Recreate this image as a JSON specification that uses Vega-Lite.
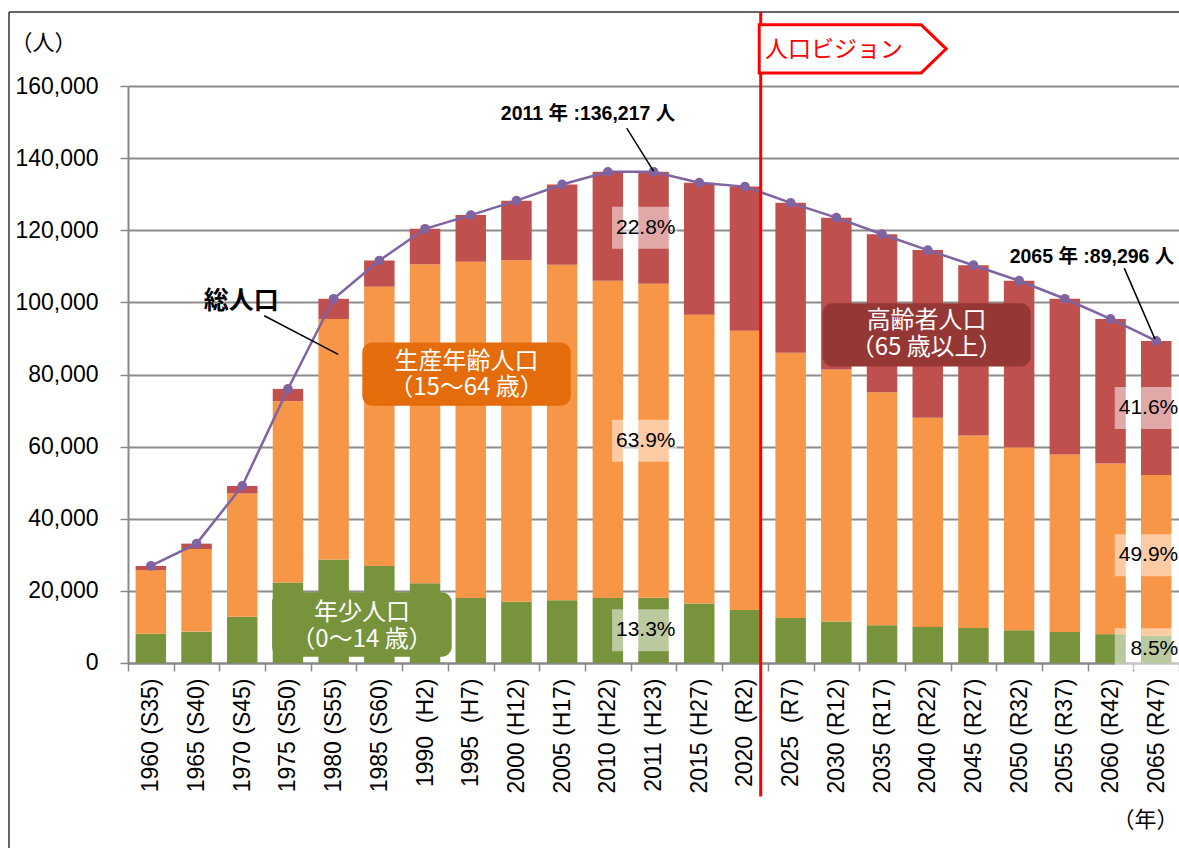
{
"$schema":"https://vega.github.io/schema/vega-lite/v6.json",
"width":1051.1,"height":577,
"autosize":{"type":"none"},
"padding":{"left":128,"top":86,"right":0,"bottom":185},
"background":"white",
"config":{"view":{"stroke":null},"font":"Liberation Sans, Noto Sans CJK JP"},
"datasets":{
"pop":[
{"yr":"1960 (S35)","g":"年少人口","k":1,"v":8100,"pct":""},{"yr":"1960 (S35)","g":"生産年齢人口","k":2,"v":17600,"pct":""},{"yr":"1960 (S35)","g":"高齢者人口","k":3,"v":1200,"pct":""},
{"yr":"1965 (S40)","g":"年少人口","k":1,"v":8700,"pct":""},{"yr":"1965 (S40)","g":"生産年齢人口","k":2,"v":22900,"pct":""},{"yr":"1965 (S40)","g":"高齢者人口","k":3,"v":1500,"pct":""},
{"yr":"1970 (S45)","g":"年少人口","k":1,"v":12800,"pct":""},{"yr":"1970 (S45)","g":"生産年齢人口","k":2,"v":34200,"pct":""},{"yr":"1970 (S45)","g":"高齢者人口","k":3,"v":2100,"pct":""},
{"yr":"1975 (S50)","g":"年少人口","k":1,"v":22300,"pct":""},{"yr":"1975 (S50)","g":"生産年齢人口","k":2,"v":50300,"pct":""},{"yr":"1975 (S50)","g":"高齢者人口","k":3,"v":3400,"pct":""},
{"yr":"1980 (S55)","g":"年少人口","k":1,"v":28700,"pct":""},{"yr":"1980 (S55)","g":"生産年齢人口","k":2,"v":66700,"pct":""},{"yr":"1980 (S55)","g":"高齢者人口","k":3,"v":5600,"pct":""},
{"yr":"1985 (S60)","g":"年少人口","k":1,"v":26900,"pct":""},{"yr":"1985 (S60)","g":"生産年齢人口","k":2,"v":77400,"pct":""},{"yr":"1985 (S60)","g":"高齢者人口","k":3,"v":7300,"pct":""},
{"yr":"1990\u00a0 (H2)","g":"年少人口","k":1,"v":22100,"pct":""},{"yr":"1990\u00a0 (H2)","g":"生産年齢人口","k":2,"v":88500,"pct":""},{"yr":"1990\u00a0 (H2)","g":"高齢者人口","k":3,"v":9800,"pct":""},
{"yr":"1995\u00a0 (H7)","g":"年少人口","k":1,"v":18000,"pct":""},{"yr":"1995\u00a0 (H7)","g":"生産年齢人口","k":2,"v":93300,"pct":""},{"yr":"1995\u00a0 (H7)","g":"高齢者人口","k":3,"v":12900,"pct":""},
{"yr":"2000 (H12)","g":"年少人口","k":1,"v":17000,"pct":""},{"yr":"2000 (H12)","g":"生産年齢人口","k":2,"v":94700,"pct":""},{"yr":"2000 (H12)","g":"高齢者人口","k":3,"v":16500,"pct":""},
{"yr":"2005 (H17)","g":"年少人口","k":1,"v":17400,"pct":""},{"yr":"2005 (H17)","g":"生産年齢人口","k":2,"v":93000,"pct":""},{"yr":"2005 (H17)","g":"高齢者人口","k":3,"v":22300,"pct":""},
{"yr":"2010 (H22)","g":"年少人口","k":1,"v":18000,"pct":""},{"yr":"2010 (H22)","g":"生産年齢人口","k":2,"v":88000,"pct":""},{"yr":"2010 (H22)","g":"高齢者人口","k":3,"v":30200,"pct":""},
{"yr":"2011 (H23)","g":"年少人口","k":1,"v":18117,"pct":"13.3%"},{"yr":"2011 (H23)","g":"生産年齢人口","k":2,"v":87043,"pct":"63.9%"},{"yr":"2011 (H23)","g":"高齢者人口","k":3,"v":31057,"pct":"22.8%"},
{"yr":"2015 (H27)","g":"年少人口","k":1,"v":16500,"pct":""},{"yr":"2015 (H27)","g":"生産年齢人口","k":2,"v":80100,"pct":""},{"yr":"2015 (H27)","g":"高齢者人口","k":3,"v":36600,"pct":""},
{"yr":"2020\u00a0 (R2)","g":"年少人口","k":1,"v":14700,"pct":""},{"yr":"2020\u00a0 (R2)","g":"生産年齢人口","k":2,"v":77400,"pct":""},{"yr":"2020\u00a0 (R2)","g":"高齢者人口","k":3,"v":40000,"pct":""},
{"yr":"2025\u00a0 (R7)","g":"年少人口","k":1,"v":12500,"pct":""},{"yr":"2025\u00a0 (R7)","g":"生産年齢人口","k":2,"v":73500,"pct":""},{"yr":"2025\u00a0 (R7)","g":"高齢者人口","k":3,"v":41600,"pct":""},
{"yr":"2030 (R12)","g":"年少人口","k":1,"v":11500,"pct":""},{"yr":"2030 (R12)","g":"生産年齢人口","k":2,"v":69900,"pct":""},{"yr":"2030 (R12)","g":"高齢者人口","k":3,"v":42100,"pct":""},
{"yr":"2035 (R17)","g":"年少人口","k":1,"v":10500,"pct":""},{"yr":"2035 (R17)","g":"生産年齢人口","k":2,"v":64600,"pct":""},{"yr":"2035 (R17)","g":"高齢者人口","k":3,"v":43800,"pct":""},
{"yr":"2040 (R22)","g":"年少人口","k":1,"v":10000,"pct":""},{"yr":"2040 (R22)","g":"生産年齢人口","k":2,"v":58000,"pct":""},{"yr":"2040 (R22)","g":"高齢者人口","k":3,"v":46500,"pct":""},
{"yr":"2045 (R27)","g":"年少人口","k":1,"v":9700,"pct":""},{"yr":"2045 (R27)","g":"生産年齢人口","k":2,"v":53400,"pct":""},{"yr":"2045 (R27)","g":"高齢者人口","k":3,"v":47200,"pct":""},
{"yr":"2050 (R32)","g":"年少人口","k":1,"v":9100,"pct":""},{"yr":"2050 (R32)","g":"生産年齢人口","k":2,"v":50700,"pct":""},{"yr":"2050 (R32)","g":"高齢者人口","k":3,"v":46200,"pct":""},
{"yr":"2055 (R37)","g":"年少人口","k":1,"v":8600,"pct":""},{"yr":"2055 (R37)","g":"生産年齢人口","k":2,"v":49200,"pct":""},{"yr":"2055 (R37)","g":"高齢者人口","k":3,"v":43200,"pct":""},
{"yr":"2060 (R42)","g":"年少人口","k":1,"v":8000,"pct":""},{"yr":"2060 (R42)","g":"生産年齢人口","k":2,"v":47300,"pct":""},{"yr":"2060 (R42)","g":"高齢者人口","k":3,"v":40100,"pct":""},
{"yr":"2065 (R47)","g":"年少人口","k":1,"v":7590,"pct":"8.5%"},{"yr":"2065 (R47)","g":"生産年齢人口","k":2,"v":44559,"pct":"49.9%"},{"yr":"2065 (R47)","g":"高齢者人口","k":3,"v":37147,"pct":"41.6%"}
],
"tot":[
{"yr":"1960 (S35)","t":26900},{"yr":"1965 (S40)","t":33100},{"yr":"1970 (S45)","t":49100},{"yr":"1975 (S50)","t":76000},{"yr":"1980 (S55)","t":101000},{"yr":"1985 (S60)","t":111600},{"yr":"1990\u00a0 (H2)","t":120400},{"yr":"1995\u00a0 (H7)","t":124200},{"yr":"2000 (H12)","t":128200},{"yr":"2005 (H17)","t":132700},{"yr":"2010 (H22)","t":136200},{"yr":"2011 (H23)","t":136217},{"yr":"2015 (H27)","t":133200},{"yr":"2020\u00a0 (R2)","t":132100},{"yr":"2025\u00a0 (R7)","t":127600},{"yr":"2030 (R12)","t":123500},{"yr":"2035 (R17)","t":118900},{"yr":"2040 (R22)","t":114500},{"yr":"2045 (R27)","t":110300},{"yr":"2050 (R32)","t":106000},{"yr":"2055 (R37)","t":101000},{"yr":"2060 (R42)","t":95400},{"yr":"2065 (R47)","t":89296}
]},
"layer":[
{"data":{"name":"pop"},"mark":{"type":"bar","width":{"band":0.667}},
 "encoding":{
  "x":{"field":"yr","type":"nominal","sort":null,
   "scale":{"domain":["1960 (S35)","1965 (S40)","1970 (S45)","1975 (S50)","1980 (S55)","1985 (S60)","1990\u00a0 (H2)","1995\u00a0 (H7)","2000 (H12)","2005 (H17)","2010 (H22)","2011 (H23)","2015 (H27)","2020\u00a0 (R2)","2025\u00a0 (R7)","2030 (R12)","2035 (R17)","2040 (R22)","2045 (R27)","2050 (R32)","2055 (R37)","2060 (R42)","2065 (R47)"],"paddingInner":0,"paddingOuter":0},
   "axis":{"title":"（年）","titleX":1050,"titleY":157,"titleAlign":"right","titleBaseline":"middle","titleAngle":0,"titleFontSize":22,"titleFontWeight":"normal","titleFont":"Noto Sans CJK JP","titleColor":"black",
    "labelAngle":270,"labelAlign":"right","labelBaseline":"middle","labelFontSize":23,"labelColor":"black","labelPadding":7,"labelFont":"Liberation Sans","labelOverlap":false,"labelLimit":0,
    "tickBand":"extent","tickSize":8,"tickColor":"#888888","tickWidth":1.5,"domainColor":"#888888","domainWidth":2,"grid":false}},
  "y":{"field":"v","type":"quantitative","stack":"zero",
   "scale":{"domain":[0,160000],"nice":false},
   "axis":{"title":"（人）","titleAngle":0,"titleX":-118,"titleY":-44,"titleAlign":"left","titleBaseline":"middle","titleFontSize":22,"titleFont":"Noto Sans CJK JP","titleFontWeight":"normal","titleColor":"black",
    "values":[0,20000,40000,60000,80000,100000,120000,140000,160000],"format":",.0f","labelFontSize":23,"labelColor":"black","labelPadding":22,"labelFont":"Liberation Sans",
    "tickSize":8,"tickColor":"#888888","tickWidth":1.5,"domainColor":"#888888","domainWidth":2,"gridColor":"#8c8c8c","gridWidth":2}},
  "color":{"field":"g","type":"nominal","scale":{"domain":["年少人口","生産年齢人口","高齢者人口"],"range":["#77933c","#f79646","#c0504d"]},"legend":null},
  "order":{"field":"k","type":"quantitative"}}},
{"data":{"name":"tot"},"mark":{"type":"line","color":"#8064a2","strokeWidth":2.5,"point":{"filled":true,"size":95,"color":"#8064a2"}},
 "encoding":{"x":{"field":"yr","type":"nominal","sort":null},"y":{"field":"t","type":"quantitative"}}},
{"data":{"name":"pop"},"mark":{"type":"point","shape":"M-1,-0.646H1V0.646H-1Z","size":4225,"filled":true,"color":"white","strokeWidth":0,"xOffset":-9},
 "encoding":{"x":{"field":"yr","type":"nominal","sort":null},"y":{"field":"v","type":"quantitative","stack":"zero","bandPosition":0.5},"order":{"field":"k","type":"quantitative"},
  "opacity":{"condition":{"test":"datum.pct != ''","value":0.5},"value":0}}},
{"data":{"name":"pop"},"mark":{"type":"text","font":"Liberation Sans","fontSize":21,"color":"black","align":"right","baseline":"middle","xOffset":22},
 "encoding":{"x":{"field":"yr","type":"nominal","sort":null},"y":{"field":"v","type":"quantitative","stack":"zero","bandPosition":0.5},"order":{"field":"k","type":"quantitative"},"text":{"field":"pct"}}},
{"data":{"values":[{}]},"mark":{"type":"rect","cornerRadius":10,"color":"#e46c0a"},
 "encoding":{"x":{"datum":"1985 (S60)","bandPosition":0.127},"x2":{"datum":"2005 (H17)","bandPosition":0.687},"y":{"datum":88900},"y2":{"datum":71300}}},
{"data":{"values":[{}]},"mark":{"type":"rect","cornerRadius":10,"color":"#77933c"},
 "encoding":{"x":{"datum":"1975 (S50)","bandPosition":0.153},"x2":{"datum":"1995\u00a0 (H7)","bandPosition":0.083},"y":{"datum":19600},"y2":{"datum":1750}}},
{"data":{"values":[{}]},"mark":{"type":"rect","cornerRadius":10,"color":"#953735"},
 "encoding":{"x":{"datum":"2030 (R12)","bandPosition":0.2},"x2":{"datum":"2050 (R32)","bandPosition":0.753},"y":{"datum":99750},"y2":{"datum":82200}}},
{"data":{"values":[{}]},"mark":{"type":"text","font":"Noto Sans CJK JP","fontSize":24,"color":"white","align":"center","baseline":"middle"},
 "encoding":{"x":{"datum":"1995\u00a0 (H7)","bandPosition":0.407},"y":{"datum":83600},"text":{"value":"生産年齢人口"}}},
{"data":{"values":[{}]},"mark":{"type":"text","font":"Noto Sans CJK JP","fontSize":24,"color":"white","align":"center","baseline":"middle"},
 "encoding":{"x":{"datum":"1995\u00a0 (H7)","bandPosition":0.407},"y":{"datum":76300},"text":{"value":"（15～64 歳）"}}},
{"data":{"values":[{}]},"mark":{"type":"text","font":"Noto Sans CJK JP","fontSize":24,"color":"white","align":"center","baseline":"middle"},
 "encoding":{"x":{"datum":"1985 (S60)","bandPosition":0.12},"y":{"datum":13900},"text":{"value":"年少人口"}}},
{"data":{"values":[{}]},"mark":{"type":"text","font":"Noto Sans CJK JP","fontSize":24,"color":"white","align":"center","baseline":"middle"},
 "encoding":{"x":{"datum":"1985 (S60)","bandPosition":0.12},"y":{"datum":6300},"text":{"value":"（0～14 歳）"}}},
{"data":{"values":[{}]},"mark":{"type":"text","font":"Noto Sans CJK JP","fontSize":24,"color":"white","align":"center","baseline":"middle"},
 "encoding":{"x":{"datum":"2040 (R22)","bandPosition":0.475},"y":{"datum":94800},"text":{"value":"高齢者人口"}}},
{"data":{"values":[{}]},"mark":{"type":"text","font":"Noto Sans CJK JP","fontSize":24,"color":"white","align":"center","baseline":"middle"},
 "encoding":{"x":{"datum":"2040 (R22)","bandPosition":0.475},"y":{"datum":87300},"text":{"value":"（65 歳以上）"}}},
{"data":{"values":[{}]},"mark":{"type":"text","font":"Noto Sans CJK JP","fontSize":25,"fontWeight":"bold","color":"black","align":"center","baseline":"middle"},
 "encoding":{"x":{"datum":"1970 (S45)","bandPosition":0.48},"y":{"datum":100400},"text":{"value":"総人口"}}},
{"data":{"values":[{}]},"mark":{"type":"text","font":"Liberation Sans, Noto Sans CJK JP","fontSize":19.5,"fontWeight":"bold","color":"black","align":"center","baseline":"middle"},
 "encoding":{"x":{"datum":"2010 (H22)","bandPosition":0.066},"y":{"datum":152200},"text":{"value":"2011 年 :136,217 人"}}},
{"data":{"values":[{}]},"mark":{"type":"text","font":"Liberation Sans, Noto Sans CJK JP","fontSize":19.5,"fontWeight":"bold","color":"black","align":"left","baseline":"middle"},
 "encoding":{"x":{"datum":"2050 (R32)","bandPosition":0.293},"y":{"datum":112600},"text":{"value":"2065 年 :89,296 人"}}},
{"data":{"values":[{}]},"mark":{"type":"rule","color":"black","strokeWidth":1.5},
 "encoding":{"x":{"datum":"1970 (S45)","bandPosition":0.982},"x2":{"datum":"1980 (S55)","bandPosition":0.6},"y":{"datum":96300},"y2":{"datum":85600}}},
{"data":{"values":[{}]},"mark":{"type":"rule","color":"black","strokeWidth":1.5},
 "encoding":{"x":{"datum":"2010 (H22)","bandPosition":0.912},"x2":{"datum":"2011 (H23)","bandPosition":0.5},"y":{"datum":148300},"y2":{"datum":136400}}},
{"data":{"values":[{}]},"mark":{"type":"rule","color":"black","strokeWidth":1.5},
 "encoding":{"x":{"datum":"2060 (R42)","bandPosition":0.8},"x2":{"datum":"2065 (R47)","bandPosition":0.473},"y":{"datum":109500},"y2":{"datum":89800}}},
{"data":{"values":[{}]},"mark":{"type":"rule","color":"#333333","strokeWidth":1.5,"xOffset":-119},
 "encoding":{"x":{"datum":"1960 (S35)","bandPosition":0},"y":{"datum":180500},"y2":{"datum":-56000}}},
{"data":{"values":[{}]},"mark":{"type":"rule","color":"#333333","strokeWidth":1.5,"xOffset":-119},
 "encoding":{"x":{"datum":"1960 (S35)","bandPosition":0},"x2":{"datum":"2065 (R47)","bandPosition":1},"y":{"datum":180500}}},
{"data":{"values":[{}]},"mark":{"type":"rule","color":"#ff0000","strokeWidth":3},
 "encoding":{"x":{"datum":"2020\u00a0 (R2)","bandPosition":0.845},"y":{"datum":180500},"y2":{"datum":-37000}}},
{"data":{"values":[{}]},"mark":{"type":"point","shape":"M-1,-0.257H0.733L1,0L0.733,0.257H-1Z","size":34969,"filled":true,"fill":"white","stroke":"#ff0000","strokeWidth":3,"opacity":1},
 "encoding":{"x":{"datum":"2030 (R12)","bandPosition":0.858},"y":{"datum":170300}}},
{"data":{"values":[{}]},"mark":{"type":"text","font":"Noto Sans CJK JP","fontSize":23,"color":"#ff0000","align":"left","baseline":"middle"},
 "encoding":{"x":{"datum":"2020\u00a0 (R2)","bandPosition":0.939},"y":{"datum":170100},"text":{"value":"人口ビジョン"}}}
]
}
